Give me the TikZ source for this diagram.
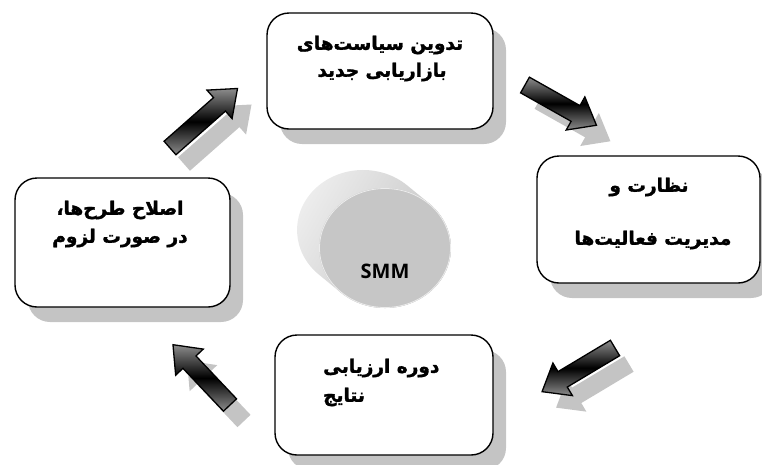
\documentclass[tikz,border=0pt]{standalone}
\usepackage{fontspec}
\usetikzlibrary{shadows}
\TeXXeTstate=1
\newfontfamily\arabicfont[Script=Arabic, BoldFeatures={FakeBold=1.6}]{DejaVu Sans}
\newfontfamily\smmfont{Open Sans}
\definecolor{shadowgray}{HTML}{C4C4C4}
\definecolor{facegray}{HTML}{C6C6C6}
\newcommand\arrowpath[1]{(0,-9) -- (#1-24,-9) -- (#1-24,-19) -- (#1,0) -- (#1-24,19) -- (#1-24,9) -- (0,9) -- cycle}
\newcommand\blockarrow[4]{%
  \begin{scope}[shift={(#1+14,#2+16)}, rotate=#3]
    \fill[shadowgray] \arrowpath{#4};
  \end{scope}
  \begin{scope}[shift={(#1,#2)}, rotate=#3]
    \shade[top color=gray!90, bottom color=gray!90, middle color=black, shading angle=0, draw=black, line width=1.3pt, line join=miter] \arrowpath{#4};
  \end{scope}}
\begin{document}
\begin{tikzpicture}[x=1pt,y=-1pt,
  box/.style={draw=black, line width=1.4pt, rounded corners=22pt, fill=white, inner sep=0pt,
    drop shadow={shadow xshift=13pt, shadow yshift=-15pt, fill=shadowgray, opacity=1}},
  lbl/.style={font=\arabicfont\bfseries\fontsize{18.5}{22}\selectfont, inner sep=0pt},
]
\useasboundingbox (0,0) rectangle (762,464);

% boxes
\node[box, minimum width=226pt, minimum height=116pt] (b1) at (380,71) {};
\node[box, minimum width=223pt, minimum height=127pt] (b2) at (648.5,219.5) {};
\node[box, minimum width=215pt, minimum height=129pt] (b4) at (122.5,242.5) {};
\node[box, minimum width=218pt, minimum height=120pt] (b3) at (384,395) {};

% texts
\node[lbl] (t1a) at (380,45) {\beginR تدوین سیاست‌های\endR};
\node[lbl] (t1b) at (382,72) {\beginR بازاریابی جدید\endR};
\node[lbl] (t2a) at (649,187) {\beginR نظارت و\endR};
\node[lbl] (t2b) at (653,240) {\beginR مدیریت فعالیت‌ها\endR};
\node[lbl, anchor=west] (t3a) at (323,368) {\beginR دوره ارزیابی\endR};
\node[lbl, anchor=west] (t3b) at (323,397) {\beginR نتایج\endR};
\node[lbl] (t4a) at (120,210) {\beginR اصلاح طرح‌ها،\endR};
\node[lbl] (t4b) at (120,238) {\beginR در صورت لزوم\endR};

% arrows
\blockarrow{170}{148}{41.4}{90}
\blockarrow{525}{85}{-29.4}{82}
\blockarrow{615}{348}{210.9}{85}
\blockarrow{230}{405}{133.4}{83}

% cylinder
\shade[left color=gray!14, right color=gray!50, shading angle=60]
  (429.2,203.4) -- (407.2,185.4)
  arc[start angle=-48, end angle=-228, x radius=66, y radius=60]
  -- (340.8,292.6)
  arc[start angle=132, end angle=-48, x radius=66, y radius=60] -- cycle;
\fill[facegray] (385,248) ellipse[x radius=66, y radius=60];
\draw[white!85!gray, line width=0.8pt] (385,248) ellipse[x radius=65.5, y radius=59.5];
\node[font=\smmfont\bfseries\fontsize{20}{24}\selectfont, inner sep=0pt] (smm) at (385,271) {SMM};
\end{tikzpicture}
\end{document}
